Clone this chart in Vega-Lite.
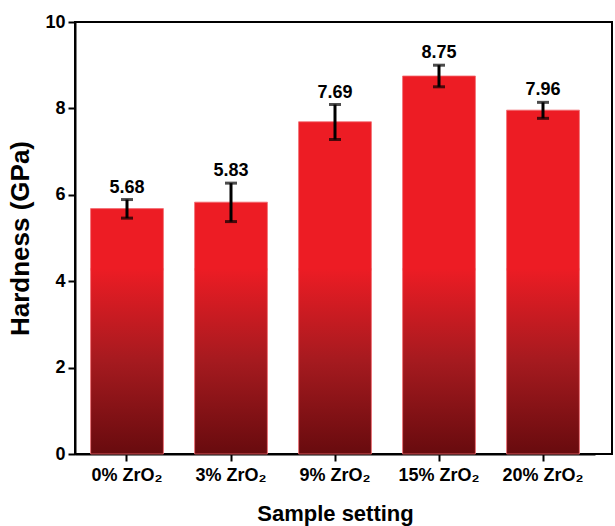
{
  "$schema": "https://vega.github.io/schema/vega-lite/v6.json",
  "width": 537,
  "height": 432,
  "autosize": {"type": "none"},
  "padding": {"left": 75, "top": 22, "right": 3, "bottom": 72},
  "background": "white",
  "data": {
    "values": [
      {"sample": "0% ZrO₂", "value": 5.68, "lo": 5.46, "hi": 5.89},
      {"sample": "3% ZrO₂", "value": 5.83, "lo": 5.38, "hi": 6.27},
      {"sample": "9% ZrO₂", "value": 7.69, "lo": 7.28, "hi": 8.09},
      {"sample": "15% ZrO₂", "value": 8.75, "lo": 8.5, "hi": 9.0},
      {"sample": "20% ZrO₂", "value": 7.96, "lo": 7.77, "hi": 8.14}
    ]
  },
  "encoding": {
    "x": {
      "field": "sample",
      "type": "nominal",
      "sort": null,
      "scale": {"range": [0, 520], "paddingInner": 0.3, "paddingOuter": 0.15},
      "axis": {
        "title": "Sample setting",
        "labelAngle": 0,
        "labelFontSize": 18,
        "labelFontWeight": "bold",
        "labelFont": "Liberation Sans",
        "labelColor": "black",
        "labelPadding": 5,
        "tickSize": 7,
        "tickWidth": 2,
        "tickColor": "black",
        "domainColor": "black",
        "domainWidth": 2,
        "titleFont": "Liberation Sans",
        "titleFontSize": 22,
        "titleFontWeight": "bold",
        "titleColor": "black",
        "titlePadding": 19
      }
    }
  },
  "layer": [
    {
      "mark": {"type": "bar", "fill": "#ed1c24"},
      "encoding": {
        "y": {
          "field": "value",
          "type": "quantitative",
          "scale": {"domain": [0, 10]},
          "axis": {
            "title": "Hardness (GPa)",
            "values": [0, 2, 4, 6, 8, 10],
            "grid": false,
            "labelFontSize": 18,
            "labelFontWeight": "bold",
            "labelFont": "Liberation Sans",
            "labelColor": "black",
            "labelPadding": 3,
            "tickSize": 7,
            "tickWidth": 2,
            "tickColor": "black",
            "domainColor": "black",
            "domainWidth": 2,
            "titleFont": "Liberation Sans",
            "titleFontSize": 26,
            "titleFontWeight": "bold",
            "titleColor": "black",
            "titlePadding": 11
          }
        },
        "y2": {"datum": 4.25}
      }
    },
    {
      "mark": {
        "type": "bar",
        "fill": {
          "gradient": "linear",
          "x1": 0, "y1": 1, "x2": 0, "y2": 0,
          "stops": [
            {"offset": 0, "color": "#680b0e"},
            {"offset": 0.5, "color": "#a51a1f"},
            {"offset": 1, "color": "#ed1c24"}
          ]
        }
      },
      "encoding": {
        "y": {"datum": 4.3, "type": "quantitative"},
        "y2": {"datum": 0}
      }
    },
    {
      "mark": {"type": "bar", "fillOpacity": 0, "stroke": "#f26a70", "strokeWidth": 0.8},
      "encoding": {
        "y": {"field": "value", "type": "quantitative"}
      }
    },
    {
      "mark": {"type": "rule", "color": "black", "strokeWidth": 3},
      "encoding": {
        "y": {"field": "lo", "type": "quantitative"},
        "y2": {"field": "hi"}
      }
    },
    {
      "mark": {"type": "tick", "color": "black", "size": 12, "thickness": 3},
      "encoding": {"y": {"field": "lo", "type": "quantitative"}}
    },
    {
      "mark": {"type": "tick", "color": "black", "size": 12, "thickness": 3},
      "encoding": {"y": {"field": "hi", "type": "quantitative"}}
    },
    {
      "mark": {"type": "text", "font": "Liberation Sans", "fontSize": 18, "fontWeight": "bold", "color": "black", "baseline": "bottom", "dy": -3},
      "encoding": {
        "y": {"field": "hi", "type": "quantitative"},
        "text": {"field": "value", "type": "quantitative", "format": ".2f"}
      }
    }
  ],
  "config": {
    "view": {"stroke": "black", "strokeWidth": 2}
  }
}
